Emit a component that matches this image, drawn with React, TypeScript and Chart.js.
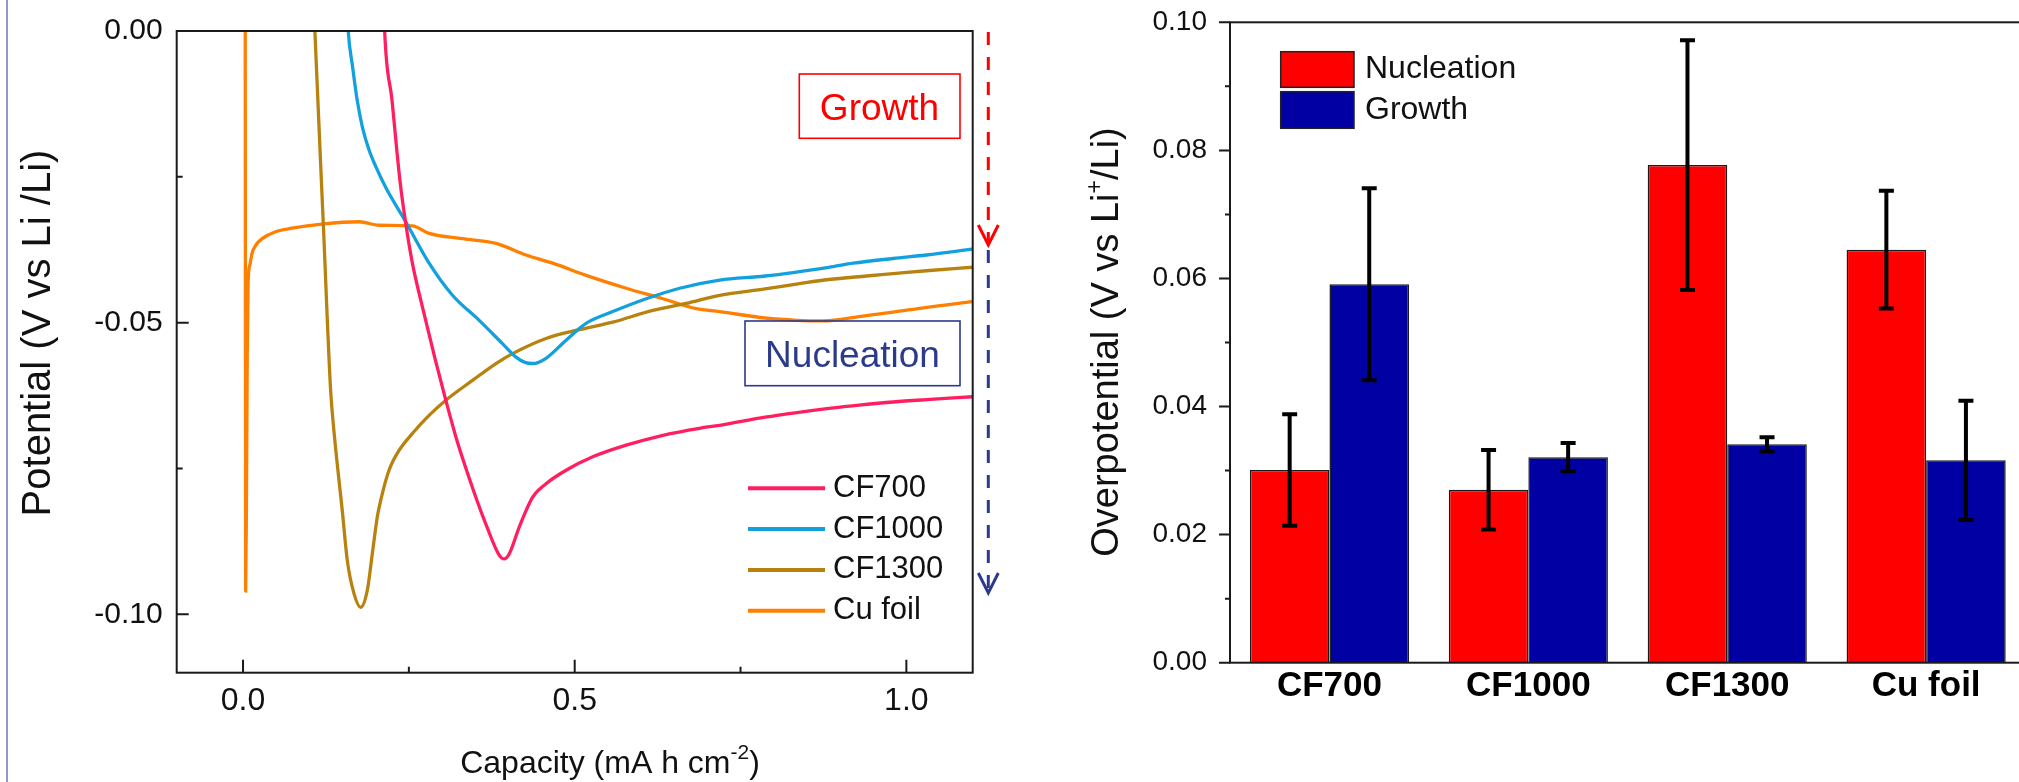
import React, { useEffect, useRef } from "react";
import { Chart, registerables } from "chart.js";

Chart.register(...registerables);

// ---------------- Left panel: voltage profiles ----------------
const CF700_X = [0.2125, 0.2135, 0.2245, 0.2365, 0.2453, 0.2553, 0.2704, 0.2895, 0.3057, 0.3225, 0.3475, 0.368, 0.3855, 0.3938, 0.4014, 0.4165, 0.4366, 0.4568, 0.487, 0.5272, 0.5776, 0.633, 0.688, 0.7186, 0.787, 0.835, 0.883, 0.932, 0.98, 1.03, 1.1];
const CF700_Y = [0.004, 0.0, -0.0118, -0.0256, -0.033, -0.0398, -0.0473, -0.0562, -0.0633, -0.0702, -0.0788, -0.0851, -0.0897, -0.0905, -0.0896, -0.085, -0.0799, -0.0776, -0.0753, -0.073, -0.071, -0.0693, -0.0681, -0.0676, -0.0662, -0.0654, -0.0647, -0.0641, -0.0636, -0.0632, -0.0627];

const CF1000_X = [0.157, 0.1586, 0.165, 0.172, 0.18, 0.19, 0.2, 0.216, 0.2453, 0.2805, 0.3157, 0.356, 0.3912, 0.4115, 0.425, 0.4366, 0.4568, 0.487, 0.5172, 0.5574, 0.6078, 0.6582, 0.7186, 0.787, 0.883, 0.92, 0.98, 1.03, 1.1];
const CF1000_Y = [0.004, 0.0, -0.006, -0.0118, -0.0165, -0.0204, -0.0232, -0.027, -0.0327, -0.0398, -0.0453, -0.0496, -0.0536, -0.0559, -0.0568, -0.057, -0.0561, -0.053, -0.0501, -0.0481, -0.0459, -0.0441, -0.0427, -0.042, -0.0405, -0.0398, -0.039, -0.0384, -0.0374];

const CF1300_X = [0.107, 0.1083, 0.121, 0.132, 0.137, 0.142, 0.1496, 0.1571, 0.1672, 0.1773, 0.1873, 0.1949, 0.2024, 0.21, 0.2201, 0.2352, 0.2553, 0.2805, 0.3057, 0.3459, 0.3813, 0.4063, 0.4568, 0.5071, 0.5574, 0.6178, 0.6683, 0.7186, 0.787, 0.839, 0.883, 0.94, 0.98, 1.03, 1.1];
const CF1300_Y = [0.004, 0.0, -0.033, -0.0615, -0.0685, -0.0742, -0.0822, -0.0907, -0.0964, -0.0988, -0.0959, -0.0896, -0.0833, -0.0793, -0.0753, -0.0719, -0.069, -0.0659, -0.0633, -0.0599, -0.057, -0.0553, -0.0527, -0.0512, -0.0499, -0.0479, -0.0467, -0.0453, -0.0442, -0.0433, -0.0426, -0.042, -0.0416, -0.0411, -0.0405];

const CUFOIL_X = [0.0033, 0.0036, 0.004, 0.0052, 0.0064, 0.0076, 0.0105, 0.0136, 0.02, 0.0287, 0.049, 0.074, 0.119, 0.175, 0.205, 0.2553, 0.2805, 0.3308, 0.3813, 0.4266, 0.4668, 0.5172, 0.5776, 0.633, 0.6834, 0.7186, 0.787, 0.835, 0.875, 0.932, 0.98, 1.028, 1.1];
const CUFOIL_Y = [0.005, -0.05, -0.096, -0.08, -0.055, -0.0433, -0.04, -0.0381, -0.0366, -0.0356, -0.0344, -0.0338, -0.0331, -0.0327, -0.0333, -0.0334, -0.0347, -0.0356, -0.0364, -0.0384, -0.0398, -0.0419, -0.0441, -0.0459, -0.0476, -0.0481, -0.0492, -0.0496, -0.0497, -0.0489, -0.0482, -0.0474, -0.0464];

const PROFILE_NAMES = ["CF700", "CF1000", "CF1300", "Cu foil"];
const PROFILE_X = [CF700_X, CF1000_X, CF1300_X, CUFOIL_X];
const PROFILE_Y = [CF700_Y, CF1000_Y, CF1300_Y, CUFOIL_Y];
const PROFILE_COLORS = ["#ff1f5f", "#13a1dd", "#b8820f", "#ff8000"];

const CAP_TICKS = [0, 0.5, 1.0];
const CAP_MINOR_TICKS = [0.25, 0.75];
const POT_TICKS = [0, -0.05, -0.1];
const POT_MINOR_TICKS = [-0.025, -0.075];

// ---------------- Right panel: overpotentials ----------------
const SAMPLES = ["CF700", "CF1000", "CF1300", "Cu foil"];
const NUCLEATION = [0.0301, 0.027, 0.0777, 0.0645];
const NUCLEATION_ERR = [0.0087, 0.0062, 0.0195, 0.0092];
const GROWTH = [0.0591, 0.0321, 0.0341, 0.0316];
const GROWTH_ERR = [0.015, 0.0022, 0.0011, 0.0093];
const OVER_TICKS = [0, 0.02, 0.04, 0.06, 0.08, 0.1];
const OVER_MINOR_TICKS = [0.01, 0.03, 0.05, 0.07, 0.09];

const FONT = "'Liberation Sans', Arial, Helvetica, sans-serif";
const RIGHT_OFFSET = 1010;

type Part = { text: string; size: number; rise: number };

function partsWidth(ctx: CanvasRenderingContext2D, parts: Part[], weight: string) {
  let w = 0;
  for (const p of parts) {
    ctx.font = `${weight} ${p.size}px ${FONT}`;
    w += ctx.measureText(p.text).width;
  }
  return w;
}

function drawParts(ctx: CanvasRenderingContext2D, parts: Part[], x: number, y: number, weight: string) {
  let cx = x;
  ctx.textAlign = "left";
  ctx.textBaseline = "alphabetic";
  for (const p of parts) {
    ctx.font = `${weight} ${p.size}px ${FONT}`;
    ctx.fillText(p.text, cx, y - p.rise);
    cx += ctx.measureText(p.text).width;
  }
}

function dashedArrow(ctx: CanvasRenderingContext2D, x: number, y0: number, y1: number, color: string) {
  ctx.save();
  ctx.strokeStyle = color;
  ctx.lineWidth = 3;
  ctx.setLineDash([13, 12]);
  ctx.beginPath();
  ctx.moveTo(x, y0);
  ctx.lineTo(x, y1 - 3);
  ctx.stroke();
  ctx.setLineDash([]);
  ctx.beginPath();
  ctx.moveTo(x - 10, y1 - 20);
  ctx.lineTo(x, y1);
  ctx.lineTo(x + 10, y1 - 20);
  ctx.stroke();
  ctx.restore();
}

const leftDecor = {
  id: "leftDecor",
  afterDatasetsDraw(chart: any) {
    const { ctx, chartArea: a, scales } = chart;
    const xs = scales.x;
    const ys = scales.y;
    ctx.save();
    ctx.strokeStyle = "#1a1a1a";
    ctx.lineWidth = 2;
    ctx.strokeRect(a.left, a.top, a.right - a.left, a.bottom - a.top);
    ctx.beginPath();
    CAP_TICKS.forEach((v) => {
      const x = xs.getPixelForValue(v);
      ctx.moveTo(x, a.bottom);
      ctx.lineTo(x, a.bottom - 13);
    });
    CAP_MINOR_TICKS.forEach((v) => {
      const x = xs.getPixelForValue(v);
      ctx.moveTo(x, a.bottom);
      ctx.lineTo(x, a.bottom - 6);
    });
    POT_TICKS.forEach((v) => {
      const y = ys.getPixelForValue(v);
      ctx.moveTo(a.left, y);
      ctx.lineTo(a.left + 12, y);
    });
    POT_MINOR_TICKS.forEach((v) => {
      const y = ys.getPixelForValue(v);
      ctx.moveTo(a.left, y);
      ctx.lineTo(a.left + 6, y);
    });
    ctx.stroke();
    ctx.restore();
  },
  afterDraw(chart: any) {
    const { ctx } = chart;
    ctx.save();
    // legend
    PROFILE_NAMES.forEach((name, i) => {
      const y = 488.3 + i * 40.8;
      ctx.strokeStyle = PROFILE_COLORS[i];
      ctx.lineWidth = 4;
      ctx.beginPath();
      ctx.moveTo(748, y);
      ctx.lineTo(825, y);
      ctx.stroke();
      ctx.fillStyle = "#111";
      ctx.font = `31px ${FONT}`;
      ctx.textAlign = "left";
      ctx.textBaseline = "middle";
      ctx.fillText(name, 833, y);
    });
    // annotation boxes
    ctx.lineWidth = 1.6;
    ctx.strokeStyle = "#ff0000";
    ctx.strokeRect(799.3, 74, 160.7, 64.3);
    ctx.fillStyle = "#ff0000";
    ctx.font = `37px ${FONT}`;
    ctx.textAlign = "center";
    ctx.textBaseline = "alphabetic";
    ctx.fillText("Growth", 879.5, 120);
    ctx.strokeStyle = "#2c3a8c";
    ctx.strokeRect(745, 321, 215, 64.7);
    ctx.fillStyle = "#2c3a8c";
    ctx.fillText("Nucleation", 852.5, 366.7);
    dashedArrow(ctx, 988.3, 32, 245, "#ff0000");
    dashedArrow(ctx, 988.3, 250, 593, "#2c3a8c");
    // axis titles
    ctx.fillStyle = "#111";
    const xt: Part[] = [
      { text: "Capacity (mA h cm", size: 32, rise: 0 },
      { text: "-2", size: 21, rise: 14 },
      { text: ")", size: 32, rise: 0 },
    ];
    const w = partsWidth(ctx, xt, "normal");
    drawParts(ctx, xt, 610 - w / 2, 773, "normal");
    const yt: Part[] = [{ text: "Potential (V vs Li /Li)", size: 40, rise: 0 }];
    const wy = partsWidth(ctx, yt, "normal");
    ctx.save();
    ctx.translate(49.7, 333);
    ctx.rotate(-Math.PI / 2);
    drawParts(ctx, yt, -wy / 2, 0, "normal");
    ctx.restore();
    ctx.restore();
  },
};

const rightDecor = {
  id: "rightDecor",
  afterDatasetsDraw(chart: any) {
    const { ctx, chartArea: a, scales } = chart;
    const ys = scales.y;
    ctx.save();
    // error bars
    [NUCLEATION_ERR, GROWTH_ERR].forEach((errs, di) => {
      const meta = chart.getDatasetMeta(di);
      const vals = chart.data.datasets[di].data as number[];
      meta.data.forEach((bar: any, i: number) => {
        const x = bar.x;
        const hi = ys.getPixelForValue(vals[i] + errs[i]);
        const lo = ys.getPixelForValue(vals[i] - errs[i]);
        ctx.strokeStyle = "#000";
        ctx.lineWidth = 4;
        ctx.beginPath();
        ctx.moveTo(x, hi);
        ctx.lineTo(x, lo);
        ctx.moveTo(x - 7.5, hi);
        ctx.lineTo(x + 7.5, hi);
        ctx.moveTo(x - 7.5, lo);
        ctx.lineTo(x + 7.5, lo);
        ctx.stroke();
      });
    });
    // frame and ticks
    ctx.strokeStyle = "#1a1a1a";
    ctx.lineWidth = 2;
    ctx.strokeRect(a.left, a.top, a.right - a.left, a.bottom - a.top);
    ctx.beginPath();
    OVER_TICKS.forEach((v) => {
      const y = ys.getPixelForValue(v);
      ctx.moveTo(a.left, y);
      ctx.lineTo(a.left - 11, y);
    });
    OVER_MINOR_TICKS.forEach((v) => {
      const y = ys.getPixelForValue(v);
      ctx.moveTo(a.left, y);
      ctx.lineTo(a.left - 5, y);
    });
    ctx.stroke();
    ctx.restore();
  },
  afterDraw(chart: any) {
    const { ctx } = chart;
    ctx.save();
    const lx = 1280.7 - RIGHT_OFFSET;
    const items = [
      { label: "Nucleation", color: "#ff0000", top: 51.7, h: 35.6, cy: 68.8 },
      { label: "Growth", color: "#0000a3", top: 91.7, h: 36.6, cy: 109.7 },
    ];
    items.forEach((it) => {
      ctx.fillStyle = it.color;
      ctx.fillRect(lx, it.top, 73.3, it.h);
      ctx.strokeStyle = "#222";
      ctx.lineWidth = 1.5;
      ctx.strokeRect(lx, it.top, 73.3, it.h);
      ctx.fillStyle = "#111";
      ctx.font = `32px ${FONT}`;
      ctx.textAlign = "left";
      ctx.textBaseline = "middle";
      ctx.fillText(it.label, 1365 - RIGHT_OFFSET, it.cy);
    });
    ctx.fillStyle = "#111";
    const yt: Part[] = [
      { text: "Overpotential (V vs Li", size: 38, rise: 0 },
      { text: "+", size: 23, rise: 16 },
      { text: "/Li)", size: 38, rise: 0 },
    ];
    const wy = partsWidth(ctx, yt, "normal");
    ctx.save();
    ctx.translate(1118.3 - RIGHT_OFFSET, 342);
    ctx.rotate(-Math.PI / 2);
    drawParts(ctx, yt, -wy / 2, 0, "normal");
    ctx.restore();
    ctx.restore();
  },
};

export default function App() {
  const leftRef = useRef<HTMLCanvasElement | null>(null);
  const rightRef = useRef<HTMLCanvasElement | null>(null);

  useEffect(() => {
    if (!leftRef.current || !rightRef.current) return;
    const left = new Chart(leftRef.current, {
      type: "line",
      data: {
        datasets: PROFILE_NAMES.map((name, i) => ({
          label: name,
          data: PROFILE_X[i].map((x, j) => ({ x, y: PROFILE_Y[i][j] })),
          borderColor: PROFILE_COLORS[i],
          backgroundColor: PROFILE_COLORS[i],
          borderWidth: 3.3,
          pointRadius: 0,
          fill: false,
          cubicInterpolationMode: "monotone" as const,
        })),
      },
      options: {
        animation: false,
        responsive: false,
        maintainAspectRatio: false,
        events: [],
        layout: { padding: { left: 0, top: 31, right: 37.3, bottom: 0 } },
        plugins: { legend: { display: false }, tooltip: { enabled: false }, title: { display: false } },
        scales: {
          x: {
            type: "linear",
            min: -0.1,
            max: 1.1,
            afterBuildTicks: (s: any) => {
              s.ticks = CAP_TICKS.map((v) => ({ value: v }));
            },
            afterFit: (s: any) => {
              s.height = 109.3;
            },
            grid: { display: false, drawTicks: false },
            border: { display: false },
            ticks: {
              font: { family: FONT, size: 32 },
              color: "#111",
              padding: 9,
              maxRotation: 0,
              callback: (v: any) => Number(v).toFixed(1),
            },
          },
          y: {
            type: "linear",
            min: -0.11,
            max: 0,
            afterBuildTicks: (s: any) => {
              s.ticks = POT_TICKS.map((v) => ({ value: v }));
            },
            afterFit: (s: any) => {
              s.width = 176.7;
            },
            grid: { display: false, drawTicks: true, tickLength: 14 },
            border: { display: false },
            ticks: {
              font: { family: FONT, size: 30 },
              color: "#111",
              padding: 0,
              callback: (v: any) => Number(v).toFixed(2),
            },
          },
        },
      },
      plugins: [leftDecor],
    } as any);

    const right = new Chart(rightRef.current, {
      type: "bar",
      data: {
        labels: SAMPLES,
        datasets: [
          {
            label: "Nucleation",
            data: NUCLEATION,
            backgroundColor: "#ff0000",
            borderColor: "#1a1a1a",
            borderWidth: 1.5,
            categoryPercentage: 0.8,
            barPercentage: 1.0,
          },
          {
            label: "Growth",
            data: GROWTH,
            backgroundColor: "#0000a3",
            borderColor: "#1a1a1a",
            borderWidth: 1.5,
            categoryPercentage: 0.8,
            barPercentage: 1.0,
          },
        ],
      },
      options: {
        animation: false,
        responsive: false,
        maintainAspectRatio: false,
        events: [],
        layout: { padding: { left: 0, top: 22.3, right: 24.4, bottom: 0 } },
        plugins: { legend: { display: false }, tooltip: { enabled: false }, title: { display: false } },
        scales: {
          x: {
            type: "category",
            offset: true,
            afterFit: (s: any) => {
              s.height = 119.3;
            },
            grid: { display: false, drawTicks: false },
            border: { display: false },
            ticks: {
              font: { family: FONT, size: 35, weight: "bold" },
              color: "#000",
              padding: 3,
              maxRotation: 0,
            },
          },
          y: {
            type: "linear",
            min: 0,
            max: 0.1,
            afterBuildTicks: (s: any) => {
              s.ticks = OVER_TICKS.map((v) => ({ value: v }));
            },
            afterFit: (s: any) => {
              s.width = 220;
            },
            grid: { display: false, drawTicks: true, tickLength: 23 },
            border: { display: false },
            ticks: {
              font: { family: FONT, size: 28 },
              color: "#111",
              padding: 0,
              callback: (v: any) => Number(v).toFixed(2),
            },
          },
        },
      },
      plugins: [rightDecor],
    } as any);

    return () => {
      left.destroy();
      right.destroy();
    };
  }, []);

  return (
    <div
      style={{
        position: "fixed",
        left: 0,
        top: 0,
        width: 2019,
        height: 782,
        overflow: "hidden",
        background: "#ffffff",
      }}
    >
      <div style={{ position: "absolute", left: 6, top: 0, width: 2, height: 782, background: "#8f99c9" }} />
      <canvas
        ref={leftRef}
        width={1010}
        height={782}
        style={{ position: "absolute", left: 0, top: 0, width: 1010, height: 782 }}
      />
      <canvas
        ref={rightRef}
        width={1040}
        height={782}
        style={{ position: "absolute", left: RIGHT_OFFSET, top: 0, width: 1040, height: 782 }}
      />
    </div>
  );
}
